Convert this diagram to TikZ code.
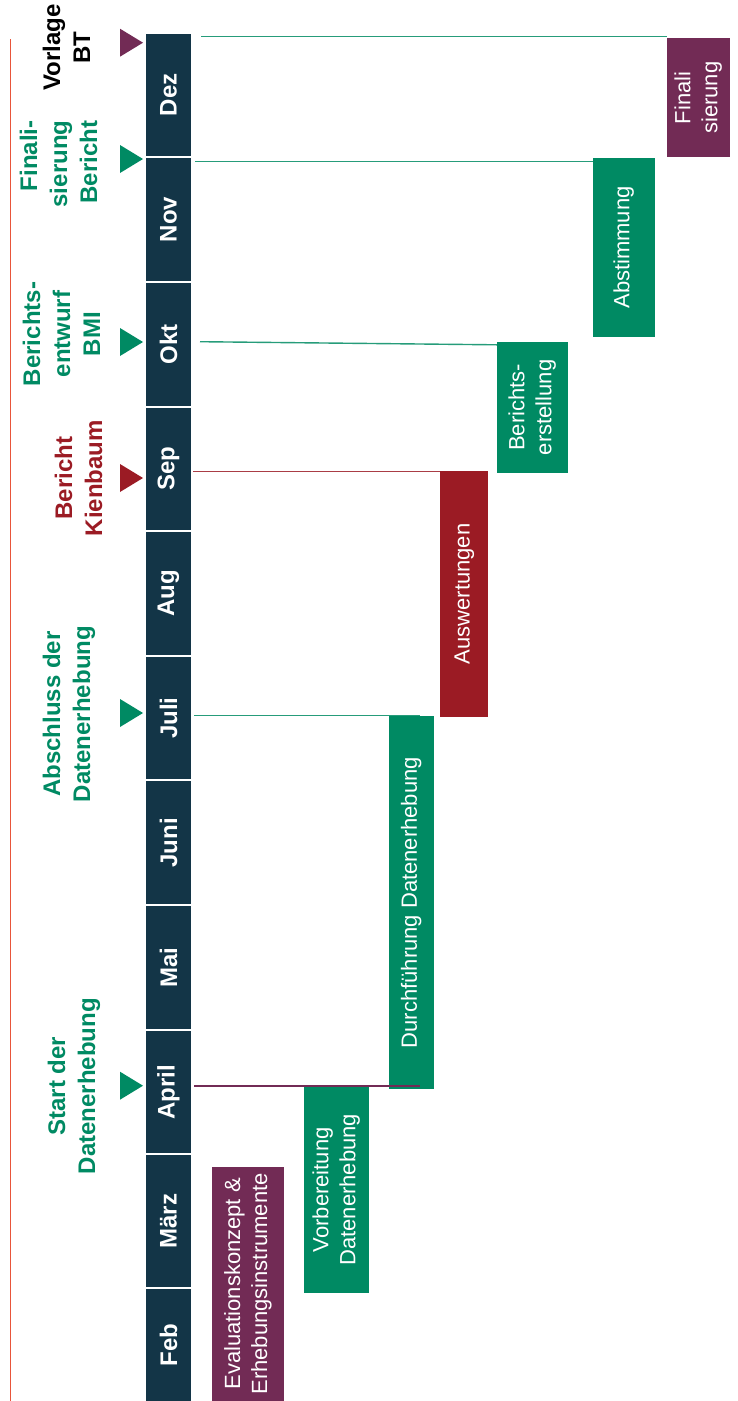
\documentclass[tikz,border=0pt]{standalone}
\usepackage{fontspec}
\setmainfont{Liberation Sans}
\usepackage{graphicx}
\usepackage{tikz}
\usetikzlibrary{
	positioning
}

\definecolor{bbnavy}{HTML}{133547}
\definecolor{bbgreen}{HTML}{008A63}
\definecolor{bbpurple}{HTML}{722B55}
\definecolor{bbred}{HTML}{9B1B24}
\definecolor{bbrule}{HTML}{E8553A}

\newcommand{\vtext}[2][c]{\rotatebox{90}{\begin{tabular}{@{}#1@{}}#2\end{tabular}}}

\tikzset{
	month/.style={fill=bbnavy, text=white, inner sep=0pt, minimum width=45.5pt,
		minimum height=122.65pt, font=\fontsize{24}{30}\selectfont\bfseries},
	task/.style={inner sep=0pt, text=white, font=\fontsize{22}{27}\selectfont},
	mlabel/.style={inner sep=0pt, font=\fontsize{24}{30}\selectfont\bfseries},
	glink/.style={draw=bbgreen!85, line width=1.4pt},
	rlink/.style={draw=bbred!85, line width=1.4pt},
	plink/.style={draw=bbpurple, line width=1.4pt}
}

\begin{document}
\begin{tikzpicture}[x=1pt, y=-1pt, node distance=1.6pt]
		\useasboundingbox (0,0) rectangle (738,1401);

		% rule on the left
		\draw[bbrule, line width=1pt] (10,39.3) -- (10,1401);

		% months
		\node[month, minimum height=112.2pt] (feb) at (168.5,1344.9) {\rotatebox{90}{Feb}};
		\node[month, minimum height=131.4pt, above=of feb] (mar) {\rotatebox{90}{März}};
		\node[month, above=of mar] (apr) {\rotatebox{90}{April}};
		\node[month, above=of apr] (mai) {\rotatebox{90}{Mai}};
		\node[month, above=of mai] (jun) {\rotatebox{90}{Juni}};
		\node[month, above=of jun] (jul) {\rotatebox{90}{Juli}};
		\node[month, above=of jul] (aug) {\rotatebox{90}{Aug}};
		\node[month, above=of aug] (sep) {\rotatebox{90}{Sep}};
		\node[month, above=of sep] (okt) {\rotatebox{90}{Okt}};
		\node[month, above=of okt] (nov) {\rotatebox{90}{Nov}};
		\node[month, above=of nov] (dez) {\rotatebox{90}{Dez}};

		% milestones
		\foreach \y/\c in {42.7/bbpurple, 159/bbgreen, 342/bbgreen, 478/bbred, 713/bbgreen, 1085.7/bbgreen}
			\fill[\c] (120,\y-14) -- (143,\y) -- (120,\y+14) -- cycle;

		\node[mlabel] (l-vorlage) at (69,47.5) {\vtext{Vorlage\\BT}};
		\node[mlabel, text=bbgreen] (l-final) at (61,164) {\vtext[r]{Finali-\\sierung\\Bericht}};
		\node[mlabel, text=bbgreen] (l-entwurf) at (64,334) {\vtext{Berichts-\\entwurf\\BMI}};
		\node[mlabel, text=bbred] (l-kienbaum) at (81,478.3) {\vtext{Bericht\\Kienbaum}};
		\node[mlabel, text=bbgreen] (l-abschluss) at (69,714) {\vtext{Abschluss der\\Datenerhebung}};
		\node[mlabel, text=bbgreen] (l-start) at (74,1086) {\vtext{Start der\\Datenerhebung}};

		% tasks
		\node[task, fill=bbpurple, minimum width=63pt, minimum height=119pt] (fin) at (698.5,97.8) {\vtext{Finali\\sierung}};
		\node[task, fill=bbgreen, minimum width=62pt, minimum height=178.4pt] (abst) at (624,247.5) {\vtext{Abstimmung}};
		\node[task, fill=bbgreen, minimum width=71pt, minimum height=130.7pt] (ber) at (532.5,407.35) {\vtext{Berichts-\\erstellung}};
		\node[task, fill=bbred, minimum width=48.3pt, minimum height=245.7pt] (ausw) at (464.15,593.85) {\vtext{Auswertungen}};
		\node[task, fill=bbgreen, minimum width=44.5pt, minimum height=373.3pt] (durch) at (411.55,902.65) {\vtext{Durchführung Datenerhebung}};
		\node[task, fill=bbgreen, minimum width=64.3pt, minimum height=206pt] (vorb) at (336.45,1189.7) {\vtext{Vorbereitung\\Datenerhebung}};
		\node[task, fill=bbpurple, minimum width=72pt, minimum height=234.3pt] (eval) at (248.3,1283.85) {\vtext{Evaluationskonzept \&\\Erhebungsinstrumente}};

		% links from the months to the tasks
		\coordinate (s-dez) at (201,36.5);
		\coordinate (s-nov) at (195,161.7);
		\coordinate (s-okt) at (200,341.7);
		\coordinate (s-sep) at (193,471.7);
		\coordinate (s-jul) at (194,715.3);
		\coordinate (s-apr) at (194,1086);
		\draw[glink] (s-dez) -- (s-dez -| fin.west);
		\draw[glink] (s-nov) -- (s-nov -| abst.west);
		\draw[glink] (s-okt) -- ([yshift=-3pt]ber.north west);
		\draw[rlink] (s-sep) -- (s-sep -| ausw.west);
		\draw[glink] (s-jul) -- ([xshift=8pt]s-jul -| durch.north);
		\draw[plink] (s-apr) -- ([xshift=8pt]s-apr -| durch.south);
	\end{tikzpicture}
\end{document}
